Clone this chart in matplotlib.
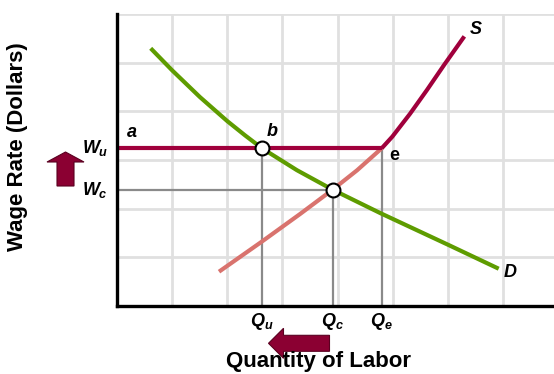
import matplotlib
matplotlib.use('Agg')
import matplotlib.pyplot as plt
import matplotlib.patches as mpatches
from matplotlib.transforms import Affine2D

plt.rcParams['font.family'] = 'Liberation Sans'
plt.rcParams['mathtext.fontset'] = 'custom'
plt.rcParams['mathtext.it'] = 'Liberation Sans:italic:bold'
plt.rcParams['mathtext.rm'] = 'Liberation Sans:bold'

# demand curve D
d_q = [0.611, 1.003, 1.505, 2.000, 2.321, 2.630, 3.264, 3.910, 4.782, 6.003, 6.922]
d_w = [5.295, 4.839, 4.292, 3.799, 3.507, 3.240, 2.790, 2.390, 1.905, 1.259, 0.766]

# supply curve below the union wage (faded part)
s_low_q = [1.850, 2.624, 3.322, 3.910, 4.353, 4.800]
s_low_w = [0.705, 1.321, 1.892, 2.390, 2.788, 3.240]
# supply curve above the union wage
s_high_q = [4.800, 4.993, 5.314, 5.622, 5.936, 6.299]
s_high_w = [3.240, 3.480, 3.950, 4.440, 4.960, 5.540]

Qu, Qc, Qe = 2.63, 3.91, 4.80
Wu, Wc = 3.24, 2.39

dark = '#a0003c'
pink = '#d9736e'
green = '#5e9c00'
gray = '#8a8a8a'

fig = plt.figure(figsize=(5.54, 3.74), dpi=100)
ax = fig.add_axes([117/554, 1 - 306/374, 1 - 117/554, (306 - 14)/374])
ax.set_xlim(0, 7.925)
ax.set_ylim(0, 6)
ax.set_xticks(range(8))
ax.set_yticks(range(7))
ax.tick_params(length=0, labelbottom=False, labelleft=False)
ax.grid(True, color='#e0e0e0', linewidth=2)
ax.set_axisbelow(True)
for side in ['top', 'right']:
    ax.spines[side].set_visible(False)
for side in ['left', 'bottom']:
    ax.spines[side].set_linewidth(2.4)
    ax.spines[side].set_zorder(5)

# guide lines
ax.plot([0, Qc], [Wc, Wc], color=gray, lw=1.6, zorder=2)
ax.plot([Qu, Qu], [0, Wu], color=gray, lw=1.6, zorder=2)
ax.plot([Qc, Qc], [0, Wc], color=gray, lw=1.6, zorder=2)
ax.plot([Qe, Qe], [0, Wu], color=gray, lw=1.6, zorder=2)

# curves
style = dict(lw=3, solid_capstyle='butt', solid_joinstyle='round')
ax.plot(s_low_q, s_low_w, color=pink, zorder=3, **style)
ax.plot(d_q, d_w, color=green, zorder=3, **style)
ax.plot([0, Qe], [Wu, Wu], color=dark, zorder=4, **style)
ax.plot(s_high_q, s_high_w, color=dark, zorder=4, **style)

ax.plot([Qu, Qc], [Wu, Wc], 'o', ms=10, mfc='white', mec='black', mew=1.5,
        zorder=6, clip_on=False)

# point labels
ax.text(0.27, 3.57, 'a', fontsize=13, fontweight='bold', style='italic',
        ha='center', va='center')
ax.text(2.81, 3.59, 'b', fontsize=13, fontweight='bold', style='italic',
        ha='center', va='center')
ax.text(5.03, 3.10, 'e', fontsize=13, fontweight='bold',
        ha='center', va='center')
ax.text(6.51, 5.69, 'S', fontsize=13, fontweight='bold', style='italic',
        ha='center', va='center')
ax.text(7.13, 0.68, 'D', fontsize=13, fontweight='bold', style='italic',
        ha='center', va='center')

# axis value labels
ax.text(-0.16, Wu, r'$W_u$', fontsize=13, ha='right', va='center', clip_on=False)
ax.text(-0.16, Wc, r'$W_c$', fontsize=13, ha='right', va='center', clip_on=False)
for q, lab in [(Qu, r'$Q_u$'), (Qc, r'$Q_c$'), (Qe, r'$Q_e$')]:
    ax.text(q, -0.32, lab, fontsize=13, ha='center', va='center', clip_on=False)

fig.text(18/554, 1 - 147/374, 'Wage Rate (Dollars)', rotation=90, fontsize=16,
         fontweight='bold', ha='center', va='center')
fig.text(318/554, 1 - 361/374, 'Quantity of Labor', fontsize=16,
         fontweight='bold', ha='center', va='center')

# block arrows in pixel coordinates
px = Affine2D().scale(1/554, 1/374) + fig.transFigure
up = mpatches.FancyArrow(65.5, 374 - 186, 0, 34, width=17, head_width=37,
                         head_length=10, length_includes_head=True,
                         fc='#8b0032', ec='#5a0020', lw=0.8, transform=px)
left = mpatches.FancyArrow(329.5, 374 - 343.3, -61, 0, width=16, head_width=30,
                           head_length=15, length_includes_head=True,
                           fc='#8b0032', ec='#5a0020', lw=0.8, transform=px)
fig.patches.extend([up, left])

fig.savefig('out.png', dpi=100)
